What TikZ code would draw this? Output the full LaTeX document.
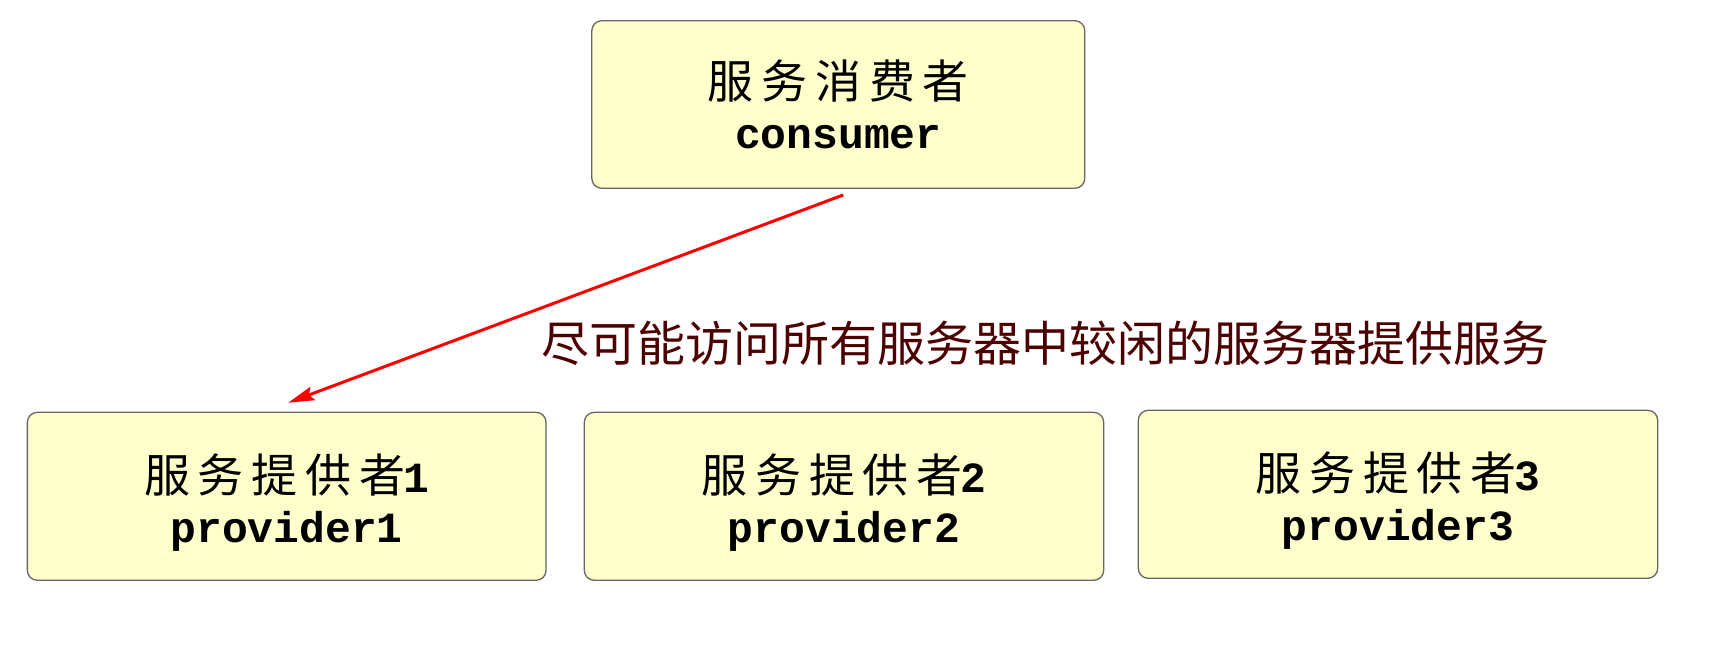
\documentclass[tikz,border=0pt]{standalone}
\usepackage{fontspec}
\usetikzlibrary{arrows.meta}
\newfontfamily\cjkbox{Noto Sans CJK SC}[LetterSpace=17]
\newfontfamily\cjklabel{Noto Sans CJK SC}
\setmonofont{Liberation Mono}
\definecolor{boxfill}{HTML}{FFFFCC}
\definecolor{boxline}{HTML}{666666}
\definecolor{labelred}{RGB}{77,0,0}
\newcommand{\cn}[1]{{\cjkbox\fontsize{46}{50}\selectfont #1}}
\newcommand{\mn}[1]{{\ttfamily\bfseries #1}}
\newcommand{\lift}{\rule{0pt}{50.5pt}}
\begin{document}
\begin{tikzpicture}[x=1pt,y=-1pt,
  svcbox/.style={draw=boxline, line width=1.3pt, fill=boxfill, rounded corners=10pt,
    minimum height=168pt, inner sep=0pt, align=center,
    font=\fontsize{43}{50}\selectfont},
  call/.style={draw=red, line width=3pt, -{Stealth[length=26pt,width=14pt,inset=4pt]}}]
\useasboundingbox (0,0) rectangle (1711,654);
\node[svcbox, minimum width=493pt, minimum height=167.6pt] (c) at (838.3,104.5)
  {\cn{服务消费者}\\ \mn{consumer}};
\node[svcbox, minimum width=518.7pt] (p1) at (286.7,496.3)
  {\lift\cn{服务提供者}\hspace{-2pt}\mn{1}\\ \mn{provider1}};
\node[svcbox, minimum width=519.4pt] (p2) at (844,496.3)
  {\lift\cn{服务提供者}\hspace{-2pt}\mn{2}\\ \mn{provider2}};
\node[svcbox, minimum width=519.4pt] (p3) at (1398,494.3)
  {\lift\cn{服务提供者}\hspace{-2pt}\mn{3}\\ \mn{provider3}};
\node[text=labelred, font=\cjklabel\fontsize{48}{50}\selectfont, inner sep=0pt] (lbl) at (1045,343)
  {尽可能访问所有服务器中较闲的服务器提供服务};
\draw[call] ([xshift=5pt,yshift=-6pt]c.south) -- ([xshift=1.6pt,yshift=9pt]p1.north);
\end{tikzpicture}
\end{document}
